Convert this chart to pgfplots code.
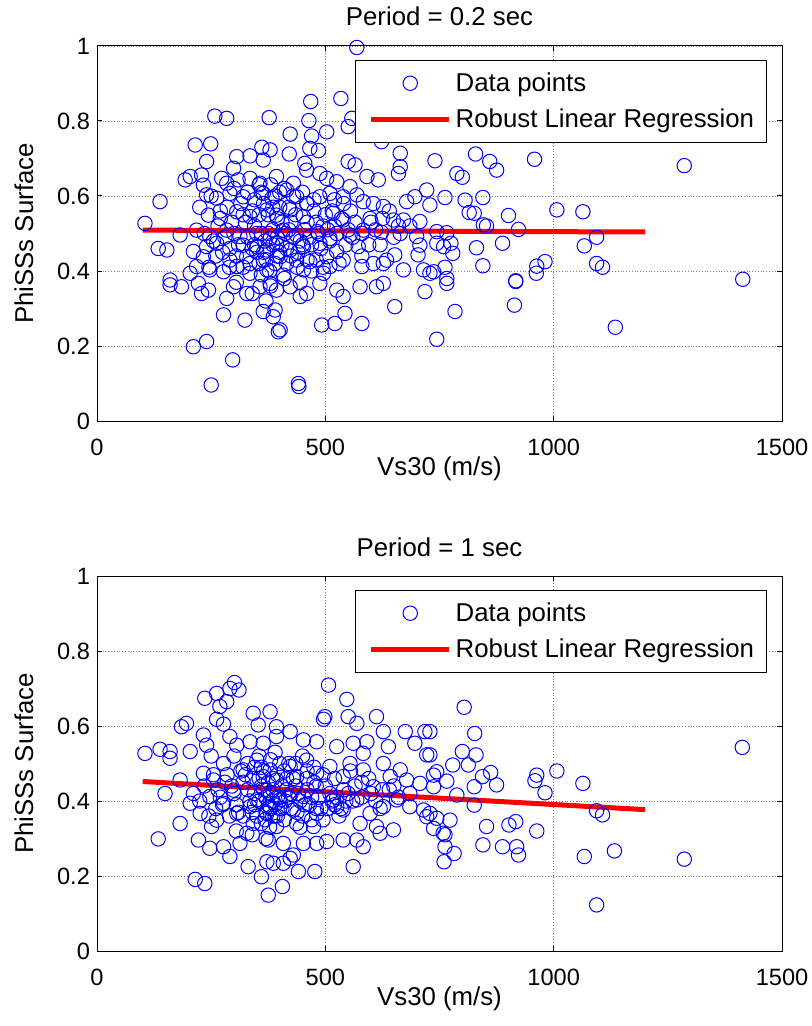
\documentclass[border=0pt]{standalone}
\usepackage{fontspec}
\setmainfont{Liberation Sans}
\usepackage{pgfplots}
\pgfplotsset{compat=1.18}
\newcommand\tickfont{\fontsize{11.8}{14}\selectfont}
\newcommand\labfont{\fontsize{12.9}{15.5}\selectfont}
\definecolor{mblue}{RGB}{0,0,255}
\definecolor{mred}{RGB}{255,0,0}
\pgfplotsset{myaxis/.style={
  width=342.5pt, height=187.5pt, scale only axis,
  xmin=0, xmax=1500, ymin=0, ymax=1,
  xtick={0,500,1000,1500}, ytick={0,0.2,0.4,0.6,0.8,1},
  grid=major, major grid style={densely dotted, black!50, line width=0.4pt},
  tick align=inside, major tick length=2.5pt, tick style={black, line width=0.5pt},
  xtick pos=both, ytick pos=both,
  axis line style={black, line width=0.5pt},
  /pgf/number format/assume math mode=true, /pgf/number format/1000 sep={},
  scaled ticks=false,
  tick label style={font=\tickfont},
  xticklabel style={anchor=base, yshift=-17pt},
  label style={font=\labfont},
  every axis title shift=0pt,
  title style={font=\labfont, at={(0.5,1)}, anchor=base, yshift=10pt},
  xlabel style={at={(axis description cs:0.5,0)}, anchor=base, yshift=-27pt},
  ylabel style={at={(axis description cs:-0.1066,0.5)}, anchor=center},
  xlabel={Vs30 (m/s)}, ylabel={PhiSSs Surface},
  legend style={at={(0.377,0.963)}, anchor=north west, draw=black, line width=0.5pt,
    fill=white, font=\labfont, inner xsep=4pt, inner ysep=4pt, row sep=3.5pt,
    cells={anchor=west}},
  clip=false,
}, scat/.style={only marks, mark=o, mark size=3.6pt, mark options={mblue, line width=0.5pt},
  legend image code/.code={\path (-2.5pt,0pt) (39pt,0pt); \draw[mblue, line width=0.5pt] (19.5pt,0pt) circle[radius=3.6pt];}},
  regl/.style={mred, line width=2.5pt, no marks,
  legend image code/.code={\path (-2.5pt,0pt); \draw[mred, line width=2.5pt] (0pt,0pt) -- (39pt,0pt);}}
}
\begin{document}
\begin{tikzpicture}
\useasboundingbox (0,0) rectangle (406pt,-513pt);
\begin{axis}[myaxis, at={(48.5pt,-210.5pt)}, anchor=south west, title={Period = 0.2 sec}]
\addplot[scat] coordinates {
(569,0.996)(534,0.860)(468,0.852)(258,0.813)(284,0.807)(377,0.809)(464,0.801)(558,0.807)
(550,0.785)(503,0.771)(423,0.765)(470,0.760)(215,0.736)(249,0.739)(361,0.730)(379,0.723)
(466,0.727)(485,0.721)(421,0.712)(306,0.705)(335,0.707)(364,0.696)(240,0.692)(455,0.687)
(550,0.692)(565,0.683)(664,0.714)(664,0.678)(623,0.745)(740,0.694)(660,0.660)(193,0.643)
(204,0.652)(229,0.656)(233,0.629)(273,0.647)(299,0.674)(284,0.634)(309,0.643)(335,0.647)
(357,0.634)(393,0.652)(430,0.634)(459,0.669)(488,0.660)(503,0.647)(525,0.638)(554,0.625)
(591,0.652)(616,0.643)(240,0.603)(138,0.585)(262,0.594)(291,0.607)(320,0.598)(364,0.607)
(383,0.594)(415,0.616)(437,0.598)(459,0.580)(488,0.598)(510,0.607)(539,0.598)(569,0.603)
(583,0.585)(605,0.580)(627,0.572)(678,0.585)(696,0.598)(722,0.616)(729,0.576)(244,0.549)
(270,0.540)(306,0.558)(335,0.545)(372,0.563)(393,0.549)(423,0.563)(452,0.545)(517,0.554)
(539,0.536)(598,0.540)(649,0.536)(671,0.536)(707,0.532)(105,0.527)(182,0.496)(218,0.509)
(247,0.492)(284,0.509)(313,0.492)(350,0.500)(379,0.487)(408,0.509)(437,0.496)(482,0.505)
(510,0.487)(554,0.496)(583,0.509)(623,0.503)(664,0.500)(700,0.492)(744,0.505)(134,0.460)
(153,0.456)(211,0.452)(240,0.465)(262,0.474)(291,0.460)(320,0.469)(350,0.465)(372,0.456)
(393,0.474)(423,0.456)(452,0.465)(488,0.474)(525,0.452)(572,0.465)(707,0.469)(703,0.443)
(233,0.438)(291,0.429)(328,0.438)(364,0.429)(401,0.438)(437,0.429)(466,0.425)(503,0.438)
(539,0.429)(634,0.429)(652,0.443)(218,0.412)(204,0.394)(247,0.403)(277,0.398)(306,0.412)
(335,0.394)(372,0.403)(408,0.389)(452,0.403)(496,0.394)(510,0.412)(580,0.412)(605,0.420)
(627,0.420)(671,0.403)(715,0.403)(729,0.394)(160,0.376)(160,0.363)(185,0.358)(222,0.367)
(229,0.340)(244,0.349)(284,0.327)(299,0.358)(328,0.340)(357,0.358)(379,0.367)(393,0.349)
(423,0.358)(445,0.332)(459,0.340)(488,0.367)(525,0.349)(539,0.332)(576,0.358)(612,0.358)
(627,0.367)(718,0.345)(652,0.305)(277,0.283)(324,0.269)(364,0.292)(390,0.296)(386,0.278)
(397,0.238)(401,0.243)(492,0.256)(521,0.260)(543,0.287)(580,0.260)(744,0.218)(211,0.198)
(240,0.212)(297,0.163)(250,0.096)(441,0.100)(442,0.092)
(829,0.712)(860,0.692)(875,0.669)(958,0.698)(1286,0.681)(788,0.660)(800,0.650)(762,0.596)
(806,0.589)(845,0.596)(815,0.556)(826,0.554)(901,0.548)(1007,0.563)(1064,0.558)(846,0.523)
(853,0.520)(923,0.511)(766,0.502)(759,0.465)(775,0.474)(779,0.447)(831,0.462)(888,0.474)
(1094,0.490)(1067,0.467)(744,0.474)(762,0.410)(737,0.398)(766,0.380)(766,0.367)(845,0.414)
(981,0.425)(963,0.413)(962,0.394)(917,0.374)(917,0.372)(1094,0.420)(1107,0.410)(1414,0.378)
(784,0.292)(914,0.309)(1135,0.250)
(320,0.55)(345,0.52)(365,0.58)(385,0.51)(405,0.47)(425,0.53)(350,0.45)(370,0.43)(395,0.44)
(415,0.42)(430,0.49)(455,0.51)(475,0.56)(300,0.50)(285,0.57)(310,0.47)(335,0.42)(360,0.39)
(380,0.36)(410,0.38)(440,0.45)(460,0.43)(485,0.50)(500,0.55)(520,0.52)(540,0.58)(560,0.49)
(580,0.44)(600,0.53)(620,0.47)(640,0.56)(330,0.61)(355,0.63)(390,0.60)(420,0.57)(450,0.61)
(475,0.59)(265,0.52)(275,0.45)(290,0.41)(305,0.37)(340,0.34)(370,0.32)(395,0.54)(410,0.62)
(430,0.60)(445,0.37)(470,0.40)(490,0.46)(510,0.48)(530,0.42)(545,0.47)(255,0.48)(235,0.50)
(225,0.57)(250,0.60)(375,0.55)(400,0.57)(340,0.56)(360,0.50)
(295,0.53)(315,0.58)(330,0.49)(345,0.47)(355,0.55)(365,0.45)(375,0.50)(385,0.57)(395,0.49)
(405,0.53)(415,0.46)(420,0.51)(435,0.55)(445,0.48)(460,0.53)(470,0.47)(480,0.53)(495,0.52)
(305,0.44)(320,0.41)(340,0.46)(355,0.42)(368,0.48)(378,0.40)(390,0.42)(400,0.45)(412,0.50)
(425,0.44)(438,0.41)(450,0.47)(465,0.49)(480,0.43)(495,0.41)(505,0.51)(515,0.56)(525,0.50)
(535,0.54)(550,0.51)(565,0.53)(580,0.50)(595,0.47)(610,0.51)(625,0.54)(650,0.49)(660,0.52)
(685,0.52)(280,0.49)(270,0.56)(260,0.44)(245,0.41)(325,0.53)(345,0.59)(360,0.61)(380,0.63)
(400,0.61)(460,0.58)(520,0.59)(555,0.56)(300,0.62)(385,0.47)
};
\addlegendentry{Data points}
\addplot[regl] coordinates {(100,0.509)(1200,0.504)};
\addlegendentry{Robust Linear Regression}
\end{axis}
\begin{axis}[myaxis, at={(48.5pt,-475.5pt)}, anchor=south west, title={Period = 1 sec}]
\addplot[scat] coordinates {
(301,0.716)(311,0.696)(291,0.700)(236,0.674)(262,0.687)(269,0.652)(284,0.665)(507,0.709)
(547,0.671)(342,0.634)(379,0.638)(353,0.603)(393,0.598)(262,0.618)(277,0.605)(185,0.598)
(196,0.607)(499,0.625)(496,0.618)(550,0.625)(569,0.607)(612,0.625)(627,0.585)(638,0.545)
(675,0.585)(696,0.554)(718,0.585)(722,0.523)(105,0.527)(138,0.538)(160,0.532)(160,0.514)
(204,0.532)(233,0.576)(240,0.549)(291,0.572)(306,0.549)(335,0.558)(364,0.554)(393,0.572)
(423,0.585)(452,0.563)(481,0.558)(525,0.545)(561,0.554)(591,0.558)(583,0.527)(627,0.500)
(664,0.483)(182,0.456)(149,0.420)(211,0.420)(233,0.474)(255,0.456)(277,0.500)(299,0.429)
(320,0.483)(350,0.509)(364,0.465)(379,0.483)(393,0.456)(423,0.492)(437,0.465)(459,0.509)
(481,0.474)(510,0.492)(539,0.465)(554,0.500)(583,0.483)(605,0.438)(642,0.465)(678,0.456)
(707,0.447)(737,0.469)(204,0.394)(226,0.367)(247,0.412)(277,0.394)(306,0.367)(335,0.385)
(350,0.403)(372,0.367)(379,0.385)(401,0.403)(430,0.376)(452,0.412)(481,0.367)(518,0.403)
(525,0.385)(539,0.376)(569,0.403)(598,0.367)(627,0.385)(656,0.403)(685,0.385)(715,0.376)
(722,0.358)(182,0.340)(134,0.299)(251,0.332)(262,0.349)(222,0.296)(247,0.274)(291,0.252)
(277,0.278)(313,0.287)(328,0.314)(342,0.340)(375,0.296)(393,0.332)(408,0.287)(437,0.340)
(452,0.287)(474,0.332)(481,0.287)(503,0.292)(539,0.296)(576,0.340)(583,0.278)(569,0.296)
(612,0.332)(620,0.314)(649,0.323)(331,0.225)(372,0.238)(360,0.198)(386,0.234)(408,0.234)
(423,0.247)(430,0.256)(441,0.212)(477,0.212)(561,0.225)(215,0.191)(236,0.180)(406,0.172)
(375,0.149)
(804,0.650)(827,0.580)(729,0.585)(729,0.523)(800,0.532)(830,0.523)(779,0.496)(813,0.496)
(744,0.478)(766,0.453)(844,0.465)(862,0.476)(875,0.443)(826,0.438)(788,0.416)(737,0.438)
(963,0.469)(959,0.454)(981,0.422)(1007,0.480)(1064,0.447)(1413,0.543)(826,0.389)(729,0.367)
(744,0.354)(773,0.349)(737,0.327)(758,0.314)(762,0.310)(853,0.332)(902,0.336)(917,0.345)
(963,0.320)(1094,0.374)(1107,0.363)(845,0.283)(888,0.278)(919,0.278)(923,0.256)(762,0.278)
(782,0.260)(760,0.238)(1067,0.252)(1133,0.267)(1286,0.245)(1094,0.123)
(320,0.45)(345,0.42)(365,0.48)(385,0.40)(405,0.44)(425,0.38)(350,0.36)(370,0.41)(395,0.47)
(415,0.43)(435,0.50)(455,0.39)(475,0.45)(300,0.42)(285,0.47)(310,0.37)(335,0.40)(360,0.34)
(380,0.38)(410,0.35)(440,0.42)(460,0.46)(485,0.41)(500,0.44)(520,0.39)(540,0.43)(560,0.40)
(580,0.45)(600,0.42)(620,0.38)(640,0.43)(330,0.50)(355,0.52)(390,0.53)(420,0.50)(450,0.52)
(475,0.49)(265,0.43)(275,0.39)(290,0.36)(305,0.32)(340,0.31)(370,0.30)(395,0.36)(410,0.48)
(430,0.46)(445,0.33)(470,0.35)(490,0.38)(510,0.42)(530,0.36)(545,0.40)(255,0.47)(235,0.44)
(225,0.40)(250,0.52)(375,0.45)(400,0.41)(340,0.46)(360,0.44)(380,0.42)(390,0.39)(370,0.37)
(385,0.46)
(295,0.44)(315,0.48)(330,0.43)(345,0.39)(355,0.46)(365,0.43)(375,0.39)(385,0.43)(395,0.41)
(405,0.38)(415,0.46)(420,0.41)(435,0.44)(445,0.40)(460,0.43)(470,0.41)(480,0.44)(495,0.47)
(305,0.39)(320,0.36)(340,0.37)(355,0.40)(368,0.35)(378,0.33)(390,0.36)(400,0.38)(412,0.40)
(425,0.42)(438,0.37)(450,0.36)(465,0.39)(480,0.38)(495,0.35)(505,0.38)(515,0.40)(525,0.41)
(535,0.38)(550,0.42)(565,0.44)(580,0.41)(595,0.46)(610,0.40)(625,0.43)(650,0.44)(660,0.41)
(685,0.42)(280,0.45)(270,0.41)(260,0.38)(245,0.36)(325,0.47)(345,0.49)(360,0.49)(380,0.51)
(400,0.50)(460,0.48)(520,0.46)(555,0.48)(300,0.52)(385,0.36)
};
\addlegendentry{Data points}
\addplot[regl] coordinates {(100,0.452)(1200,0.377)};
\addlegendentry{Robust Linear Regression}
\end{axis}
\end{tikzpicture}
\end{document}
